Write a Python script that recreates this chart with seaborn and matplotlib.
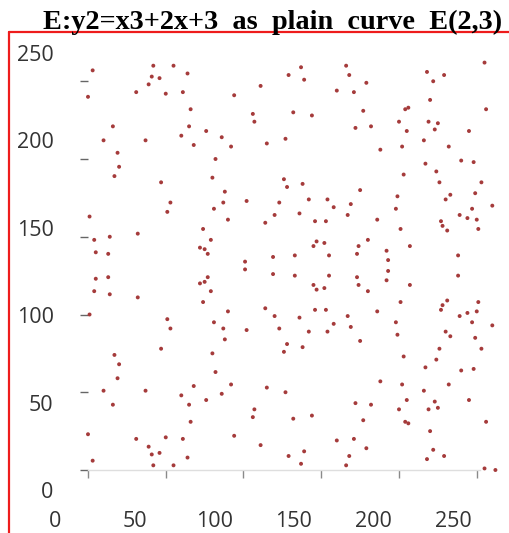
import matplotlib
matplotlib.use("Agg")
import matplotlib.pyplot as plt
from matplotlib.lines import Line2D
import seaborn as sns
import pandas as pd

# ---- data: points of E(2,3): y^2 = x^3 + 2x + 3 ----
x_vals = [0, 0, 1, 1, 3, 3, 4, 4, 5, 5, 10, 10, 13, 13, 14, 14, 16, 16, 17, 17,
          19, 19, 20, 20, 31, 31, 32, 32, 37, 37, 39, 39, 41, 41, 42, 42, 46, 46, 47, 47,
          50, 50, 51, 51, 53, 53, 55, 55, 60, 60, 61, 61, 64, 64, 65, 65, 66, 66, 68, 68,
          72, 72, 74, 74, 75, 75, 76, 76, 77, 77, 79, 79, 80, 80, 81, 81, 82, 82, 86, 86,
          87, 87, 88, 88, 90, 90, 92, 92, 94, 94, 101, 101, 102, 102, 106, 106, 107, 107,
          111, 111, 114, 114, 115, 115, 119, 119, 120, 120, 123, 123, 126, 126, 127, 127,
          128, 128, 129, 129, 132, 132, 133, 133, 136, 136, 137, 137, 138, 138, 139, 139,
          142, 142, 144, 144, 145, 145, 146, 146, 147, 147, 152, 152, 153, 153, 154, 154,
          155, 155, 158, 158, 160, 160, 166, 166, 167, 167, 168, 168, 169, 169, 171, 171,
          172, 172, 173, 173, 174, 174, 175, 175, 177, 177, 179, 179, 180, 180, 182, 182,
          186, 186, 188, 188, 192, 192, 193, 193, 198, 198, 199, 199, 200, 200, 201, 201,
          202, 202, 203, 203, 204, 204, 205, 205, 206, 206, 207, 207, 216, 216, 217, 217,
          218, 218, 219, 219, 220, 220, 222, 222, 223, 223, 224, 224, 225, 225, 226, 226,
          227, 227, 228, 228, 229, 229, 230, 230, 231, 231, 232, 232, 233, 233, 238, 238,
          239, 239, 240, 240, 244, 244, 245, 245, 247, 247, 248, 248, 249, 249, 250, 250,
          251, 251, 253, 253, 255, 255, 256, 256, 260, 260, 262]
y_vals = [23, 240, 100, 163, 6, 257, 115, 148, 123, 140, 51, 212, 124, 139, 113, 150, 42, 221, 74, 189,
          59, 204, 68, 195, 20, 243, 111, 152, 51, 212, 15, 248, 10, 253, 3, 260, 11, 252, 78, 185,
          21, 242, 97, 166, 91, 172, 3, 260, 48, 215, 20, 243, 8, 255, 42, 221, 31, 232, 54, 209,
          120, 143, 108, 155, 121, 142, 45, 218, 124, 139, 115, 148, 75, 188, 95, 168, 63, 200, 49, 214,
          91, 172, 84, 179, 102, 161, 55, 208, 22, 241, 129, 134, 90, 173, 34, 229, 39, 224,
          16, 247, 104, 159, 53, 210, 126, 137, 99, 164, 91, 172, 76, 187, 50, 213,
          81, 182, 9, 254, 33, 230, 125, 138, 98, 165, 4, 259, 79, 184, 12, 251,
          89, 174, 35, 228, 119, 144, 103, 160, 116, 147, 117, 146, 103, 160, 89, 174,
          125, 138, 94, 169, 19, 244, 3, 260, 99, 164, 9, 254, 92, 171, 20, 243,
          43, 220, 124, 139, 119, 144, 83, 180, 32, 231, 14, 249, 115, 148, 42, 221,
          102, 161, 57, 206, 122, 141, 128, 135, 95, 168, 87, 176, 39, 224, 108, 155,
          55, 208, 73, 190, 31, 232, 45, 218, 30, 233, 119, 144, 51, 212, 66, 197,
          7, 256, 39, 224, 25, 238, 13, 250, 44, 219, 71, 192, 40, 223, 78, 185,
          103, 160, 106, 157, 9, 254, 89, 174, 109, 154, 55, 208, 86, 177, 125, 138,
          99, 164, 64, 199, 101, 162, 45, 218, 95, 168, 65, 198, 85, 178, 102, 161,
          108, 155, 78, 185, 1, 262, 31, 232, 93, 170, 0]
tick_values = [0, 50, 100, 150, 200, 250]
tick_labels = ["0", "50", "100", "150", "200", "250"]
title_text = "E:y2=x3+2x+3  as  plain  curve  E(2,3)"

sns.set_theme(style="white")
W, H = 509, 533
fig = plt.figure(figsize=(W / 100, H / 100), dpi=100)
fig.patch.set_facecolor("white")

# main plotting axes: data origin at pixel (88, 470), ~1.555 px per unit
s = 1.555
ax = fig.add_axes([88 / W, (H - 470) / H, 252 * s / W, 250 * s / H])
df = pd.DataFrame({"x": x_vals, "y": y_vals})
sns.scatterplot(data=df, x="x", y="y", ax=ax, s=8, color="#a53b3b",
                edgecolor="none", clip_on=False, legend=False)
ax.set_xlim(0, 252)
ax.set_ylim(0, 250)
ax.set_facecolor("none")
for side in ["left", "top", "right"]:
    ax.spines[side].set_visible(False)
ax.spines["bottom"].set_color("#dedede")
ax.spines["bottom"].set_linewidth(1.0)
ax.set_xticks(tick_values)
ax.set_yticks(tick_values)
ax.tick_params(axis="x", direction="out", length=5.8, width=1.0, color="#8a8a8a",
               labelbottom=False, bottom=True)
ax.tick_params(axis="y", direction="out", length=5.8, width=1.0, color="#666666",
               labelleft=False, left=True)
ax.set_xlabel("")
ax.set_ylabel("")

# label axes (tick labels are spaced differently from the ticks in the reference)
lab = fig.add_axes([55 / W, (H - 490) / H, 398 / W, 437 / H])
lab.set_xlim(0, 250)
lab.set_ylim(0, 250)
lab.set_xticks(tick_values)
lab.set_xticklabels(tick_labels)
lab.set_yticks(tick_values)
lab.set_yticklabels(tick_labels)
lab.patch.set_visible(False)
for sp in lab.spines.values():
    sp.set_visible(False)
lab.tick_params(axis="x", length=0, pad=15, labelsize=15.5, labelcolor="#333333")
lab.tick_params(axis="y", length=0, pad=1, labelsize=15.5, labelcolor="#333333")
for t in lab.get_xticklabels() + lab.get_yticklabels():
    t.set_fontfamily("Open Sans")

# red frame lines (left and top)
fig.add_artist(Line2D([9 / W, 9 / W], [0, (H - 32) / H], transform=fig.transFigure,
                      color="#ee1c1c", linewidth=1.6))
fig.add_artist(Line2D([9 / W, 1], [(H - 32) / H, (H - 32) / H], transform=fig.transFigure,
                      color="#ee1c1c", linewidth=1.6))

# title
fig.text(43 / W, (H - 29) / H, title_text, ha="left", va="baseline",
         fontfamily="Liberation Serif", fontweight="bold", fontsize=20.3, color="black")

fig.savefig("out.png", dpi=100)
